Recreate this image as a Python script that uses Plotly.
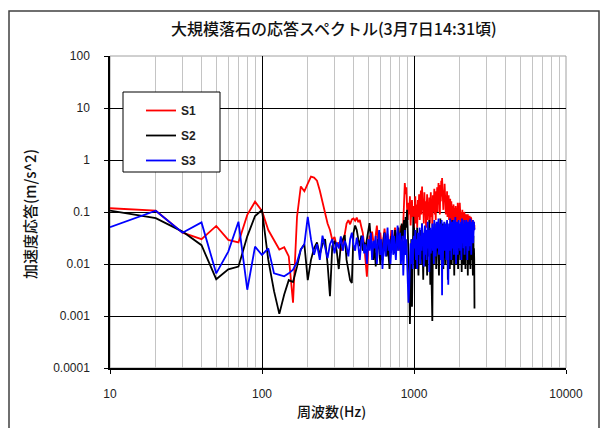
import plotly.graph_objects as go

# Response spectrum bins (Hz), 10 Hz resolution
FREQ_HZ = list(range(10, 2510, 10))

# Acceleration response (m/s^2) per sensor
S1 = [
    0.118, 0.106, 0.040, 0.030, 0.054, 0.029, 0.026, 0.088, 0.158, 0.105,
    0.045, 0.029, 0.019, 0.021, 0.014, 0.0018, 0.081, 0.31, 0.25, 0.35,
    0.48, 0.46, 0.40, 0.26, 0.15, 0.094, 0.060, 0.045, 0.029, 0.033,
    0.022, 0.026, 0.018, 0.022, 0.038, 0.060, 0.070, 0.058, 0.072, 0.075,
    0.068, 0.078, 0.064, 0.070, 0.052, 0.040, 0.024, 0.012, 0.0057, 0.020,
    0.035, 0.024, 0.042, 0.028, 0.018, 0.036, 0.055, 0.030, 0.022, 0.040,
    0.026, 0.015, 0.032, 0.048, 0.030, 0.020, 0.038, 0.025, 0.014, 0.030,
    0.045, 0.028, 0.019, 0.034, 0.050, 0.030, 0.022, 0.040, 0.026, 0.018,
    0.035, 0.055, 0.032, 0.024, 0.060, 0.18, 0.36, 0.22, 0.30, 0.12,
    0.070, 0.15, 0.09, 0.20, 0.055, 0.11, 0.17, 0.08, 0.13, 0.05,
    0.09, 0.20, 0.06, 0.14, 0.05, 0.17, 0.08, 0.22, 0.07, 0.12,
    0.26, 0.09, 0.31, 0.11, 0.18, 0.06, 0.24, 0.10, 0.16, 0.05,
    0.13, 0.22, 0.07, 0.15, 0.09, 0.19, 0.06, 0.12, 0.24, 0.08,
    0.17, 0.05, 0.21, 0.10, 0.14, 0.28, 0.09, 0.18, 0.07, 0.25,
    0.12, 0.30, 0.10, 0.22, 0.36, 0.14, 0.27, 0.09, 0.33, 0.16,
    0.40, 0.20, 0.45, 0.15, 0.30, 0.11, 0.26, 0.18, 0.35, 0.12,
    0.23, 0.09, 0.19, 0.13, 0.25, 0.08, 0.16, 0.11, 0.21, 0.07,
    0.14, 0.10, 0.18, 0.06, 0.12, 0.16, 0.08, 0.13, 0.05, 0.11,
    0.09, 0.14, 0.06, 0.12, 0.08, 0.10, 0.05, 0.13, 0.07, 0.11,
    0.08, 0.12, 0.06, 0.15, 0.09, 0.11, 0.07, 0.13, 0.10, 0.15,
    0.08, 0.12, 0.06, 0.10, 0.05, 0.09, 0.07, 0.11, 0.04, 0.08,
    0.06, 0.09, 0.05, 0.10, 0.07, 0.085, 0.05, 0.08, 0.06, 0.09,
    0.05, 0.08, 0.04, 0.07, 0.06, 0.09, 0.05, 0.07, 0.04, 0.08,
    0.06, 0.085, 0.05, 0.07, 0.04, 0.08, 0.06, 0.075, 0.05, 0.07,
    0.045, 0.065, 0.05, 0.07, 0.04, 0.06, 0.05, 0.065, 0.045, 0.056,
]

S2 = [
    0.106, 0.076, 0.042, 0.023, 0.0051, 0.0079, 0.0089, 0.034, 0.084, 0.109,
    0.012, 0.0030, 0.0011, 0.0026, 0.0049, 0.0045, 0.0089, 0.019, 0.024, 0.0049,
    0.012, 0.020, 0.026, 0.015, 0.024, 0.030, 0.010, 0.0024, 0.022, 0.028,
    0.018, 0.008, 0.024, 0.030, 0.036, 0.012, 0.0080, 0.0049, 0.0043, 0.040,
    0.055, 0.045, 0.030, 0.022, 0.035, 0.018, 0.026, 0.020, 0.030, 0.045,
    0.061, 0.030, 0.020, 0.012, 0.025, 0.009, 0.016, 0.030, 0.020, 0.010,
    0.018, 0.012, 0.030, 0.040, 0.022, 0.014, 0.028, 0.015, 0.008, 0.022,
    0.035, 0.020, 0.028, 0.016, 0.045, 0.030, 0.018, 0.035, 0.050, 0.028,
    0.020, 0.040, 0.060, 0.030, 0.045, 0.070, 0.030, 0.080, 0.050, 0.110,
    0.040, 0.015, 0.006, 0.0007, 0.012, 0.030, 0.0015, 0.025, 0.081, 0.030,
    0.012, 0.040, 0.008, 0.025, 0.050, 0.015, 0.006, 0.030, 0.018, 0.045,
    0.010, 0.028, 0.060, 0.020, 0.005, 0.035, 0.015, 0.050, 0.009, 0.030,
    0.020, 0.006, 0.040, 0.014, 0.025, 0.070, 0.018, 0.004, 0.030, 0.012,
    0.0025, 0.0008, 0.020, 0.045, 0.010, 0.030, 0.060, 0.015, 0.025, 0.008,
    0.035, 0.018, 0.050, 0.012, 0.028, 0.006, 0.040, 0.020, 0.075, 0.015,
    0.030, 0.010, 0.045, 0.020, 0.060, 0.008, 0.035, 0.015, 0.050, 0.025,
    0.010, 0.040, 0.020, 0.065, 0.012, 0.030, 0.005, 0.025, 0.045, 0.015,
    0.035, 0.008, 0.028, 0.055, 0.018, 0.040, 0.010, 0.030, 0.070, 0.020,
    0.012, 0.045, 0.025, 0.006, 0.035, 0.015, 0.050, 0.020, 0.040, 0.010,
    0.030, 0.060, 0.018, 0.040, 0.008, 0.025, 0.045, 0.015, 0.035, 0.020,
    0.050, 0.012, 0.030, 0.055, 0.020, 0.007, 0.040, 0.025, 0.045, 0.015,
    0.030, 0.010, 0.040, 0.020, 0.050, 0.014, 0.035, 0.008, 0.028, 0.045,
    0.018, 0.035, 0.012, 0.040, 0.025, 0.006, 0.030, 0.045, 0.015, 0.035,
    0.010, 0.030, 0.020, 0.040, 0.008, 0.025, 0.035, 0.012, 0.030, 0.020,
    0.040, 0.015, 0.030, 0.006, 0.025, 0.035, 0.010, 0.020, 0.012, 0.0014,
]

S3 = [
    0.051, 0.106, 0.040, 0.063, 0.0066, 0.0173, 0.065, 0.0032, 0.0216, 0.0149,
    0.020, 0.0066, 0.0062, 0.0058, 0.0066, 0.0078, 0.011, 0.019, 0.024, 0.081,
    0.030, 0.015, 0.024, 0.012, 0.035, 0.020, 0.013, 0.024, 0.030, 0.016,
    0.026, 0.020, 0.034, 0.018, 0.028, 0.022, 0.014, 0.030, 0.040, 0.024,
    0.018, 0.032, 0.022, 0.012, 0.028, 0.035, 0.016, 0.024, 0.010, 0.030,
    0.018, 0.040, 0.012, 0.028, 0.020, 0.035, 0.010, 0.025, 0.045, 0.015,
    0.030, 0.008, 0.022, 0.040, 0.014, 0.028, 0.050, 0.018, 0.030, 0.010,
    0.025, 0.045, 0.015, 0.035, 0.020, 0.012, 0.030, 0.055, 0.018, 0.028,
    0.040, 0.010, 0.025, 0.035, 0.006, 0.020, 0.045, 0.015, 0.030, 0.012,
    0.004, 0.0018, 0.0035, 0.015, 0.025, 0.010, 0.030, 0.008, 0.020, 0.035,
    0.020, 0.045, 0.012, 0.030, 0.008, 0.040, 0.015, 0.025, 0.050, 0.010,
    0.035, 0.018, 0.060, 0.022, 0.040, 0.009, 0.030, 0.055, 0.015, 0.045,
    0.012, 0.038, 0.065, 0.020, 0.045, 0.007, 0.030, 0.050, 0.016, 0.040,
    0.025, 0.060, 0.018, 0.045, 0.010, 0.070, 0.030, 0.050, 0.014, 0.040,
    0.065, 0.020, 0.050, 0.030, 0.075, 0.015, 0.045, 0.025, 0.060, 0.012,
    0.040, 0.070, 0.0025, 0.055, 0.009, 0.045, 0.030, 0.065, 0.018, 0.050,
    0.025, 0.060, 0.012, 0.040, 0.070, 0.020, 0.050, 0.004, 0.035, 0.060,
    0.018, 0.045, 0.075, 0.025, 0.055, 0.012, 0.040, 0.065, 0.020, 0.050,
    0.030, 0.070, 0.015, 0.045, 0.060, 0.022, 0.080, 0.035, 0.010, 0.055,
    0.025, 0.065, 0.040, 0.015, 0.055, 0.030, 0.070, 0.020, 0.045, 0.060,
    0.018, 0.050, 0.030, 0.065, 0.012, 0.045, 0.075, 0.025, 0.055, 0.035,
    0.060, 0.020, 0.045, 0.070, 0.015, 0.050, 0.030, 0.065, 0.022, 0.045,
    0.070, 0.025, 0.055, 0.012, 0.040, 0.065, 0.030, 0.050, 0.018, 0.060,
    0.035, 0.070, 0.022, 0.050, 0.075, 0.028, 0.055, 0.015, 0.045, 0.065,
    0.030, 0.060, 0.040, 0.070, 0.025, 0.055, 0.035, 0.065, 0.045, 0.050,
]

SERIES = [("S1", S1, "#ff0000"), ("S2", S2, "#000000"), ("S3", S3, "#0000ff")]

X_TICKS = [10, 100, 1000, 10000]
X_TICK_TEXT = ["10", "100", "1000", "10000"]
Y_TICKS = [0.0001, 0.001, 0.01, 0.1, 1, 10, 100]
Y_TICK_TEXT = ["0.0001", "0.001", "0.01", "0.1", "1", "10", "100"]

TITLE = "大規模落石の応答スペクトル(3月7日14:31頃)"
X_TITLE = "周波数(Hz)"
Y_TITLE = "加速度応答(m/s^2)"

for name, vals, _ in SERIES:
    assert len(vals) == len(FREQ_HZ), (name, len(vals))

# minor grid: 2..9 within each decade
minor_x = [m * 10 ** d for d in (1, 2, 3) for m in range(2, 10)]

W, H = 603, 428
ML, MR, MT, MB = 110, 37, 56, 60
PW, PH = W - ML - MR, H - MT - MB


def px(xp):
    return (xp - ML) / PW


def py(yp):
    return (H - MB - yp) / PH


fig = go.Figure()
for i, (name, vals, color) in enumerate(SERIES):
    fig.add_trace(go.Scatter(
        x=FREQ_HZ, y=vals, name=name, mode="lines",
        line=dict(color=color, width=1.8),
        legendgroup=f"g{i}",
    ))

tick_font = dict(family="Liberation Sans, Arial, sans-serif", size=12, color="#222222")
cjk = "Noto Sans CJK JP, sans-serif"

fig.update_layout(
    width=W, height=H,
    margin=dict(l=ML, r=MR, t=MT, b=MB),
    paper_bgcolor="white", plot_bgcolor="white",
    showlegend=True,
    legend=dict(
        x=px(141), y=py(96), xanchor="left", yanchor="top",
        bgcolor="rgba(0,0,0,0)", borderwidth=0,
        font=dict(family="Liberation Sans, Arial, sans-serif", size=12,
                  color="#222222", weight="bold"),
        tracegroupgap=6,
    ),
    xaxis=dict(
        type="log", range=[1, 4],
        tickvals=X_TICKS, ticktext=X_TICK_TEXT, tickfont=tick_font,
        showgrid=True, gridcolor="#000000", gridwidth=1,
        showline=True, linecolor="#000000", linewidth=1.5,
        ticks="outside", ticklen=4, tickcolor="#000000",
        ticklabelstandoff=10,
        minor=dict(tickvals=minor_x, showgrid=True, gridcolor="#c4c4c4", gridwidth=1),
        zeroline=False,
    ),
    yaxis=dict(
        type="log", range=[-4, 2],
        tickvals=Y_TICKS, ticktext=Y_TICK_TEXT, tickfont=tick_font,
        showgrid=True, gridcolor="#000000", gridwidth=1,
        showline=True, linecolor="#000000", linewidth=1.5,
        ticks="outside", ticklen=4, tickcolor="#000000",
        ticklabelstandoff=12,
        zeroline=False,
    ),
    shapes=[
        # plot area frame (gray)
        dict(type="rect", xref="x domain", yref="y domain", x0=0, x1=1, y0=0, y1=1,
             line=dict(color="#a0a0a0", width=1), layer="below"),
        # legend box
        dict(type="rect", xref="paper", yref="paper",
             x0=px(123), x1=px(220), y0=py(172), y1=py(92),
             line=dict(color="#000000", width=1), fillcolor="white", layer="above"),
        # chart frame
        dict(type="rect", xref="paper", yref="paper",
             x0=px(9), x1=px(599), y0=py(440), y1=py(11),
             line=dict(color="#404040", width=1.5), layer="below"),
    ],
    annotations=[
        dict(text=TITLE, xref="paper", yref="paper", x=px(334), y=py(28),
             xanchor="center", yanchor="middle", showarrow=False,
             font=dict(family=cjk, size=16, color="#111111", weight=500)),
        dict(text=X_TITLE, xref="paper", yref="paper", x=px(331), y=py(411),
             xanchor="center", yanchor="middle", showarrow=False,
             font=dict(family=cjk, size=14, color="#111111", weight=500)),
        dict(text=Y_TITLE, xref="paper", yref="paper", x=px(29), y=py(214),
             xanchor="center", yanchor="middle", showarrow=False, textangle=-90,
             font=dict(family=cjk, size=15, color="#111111", weight=500)),
    ],
)

fig.write_html("out.html")
